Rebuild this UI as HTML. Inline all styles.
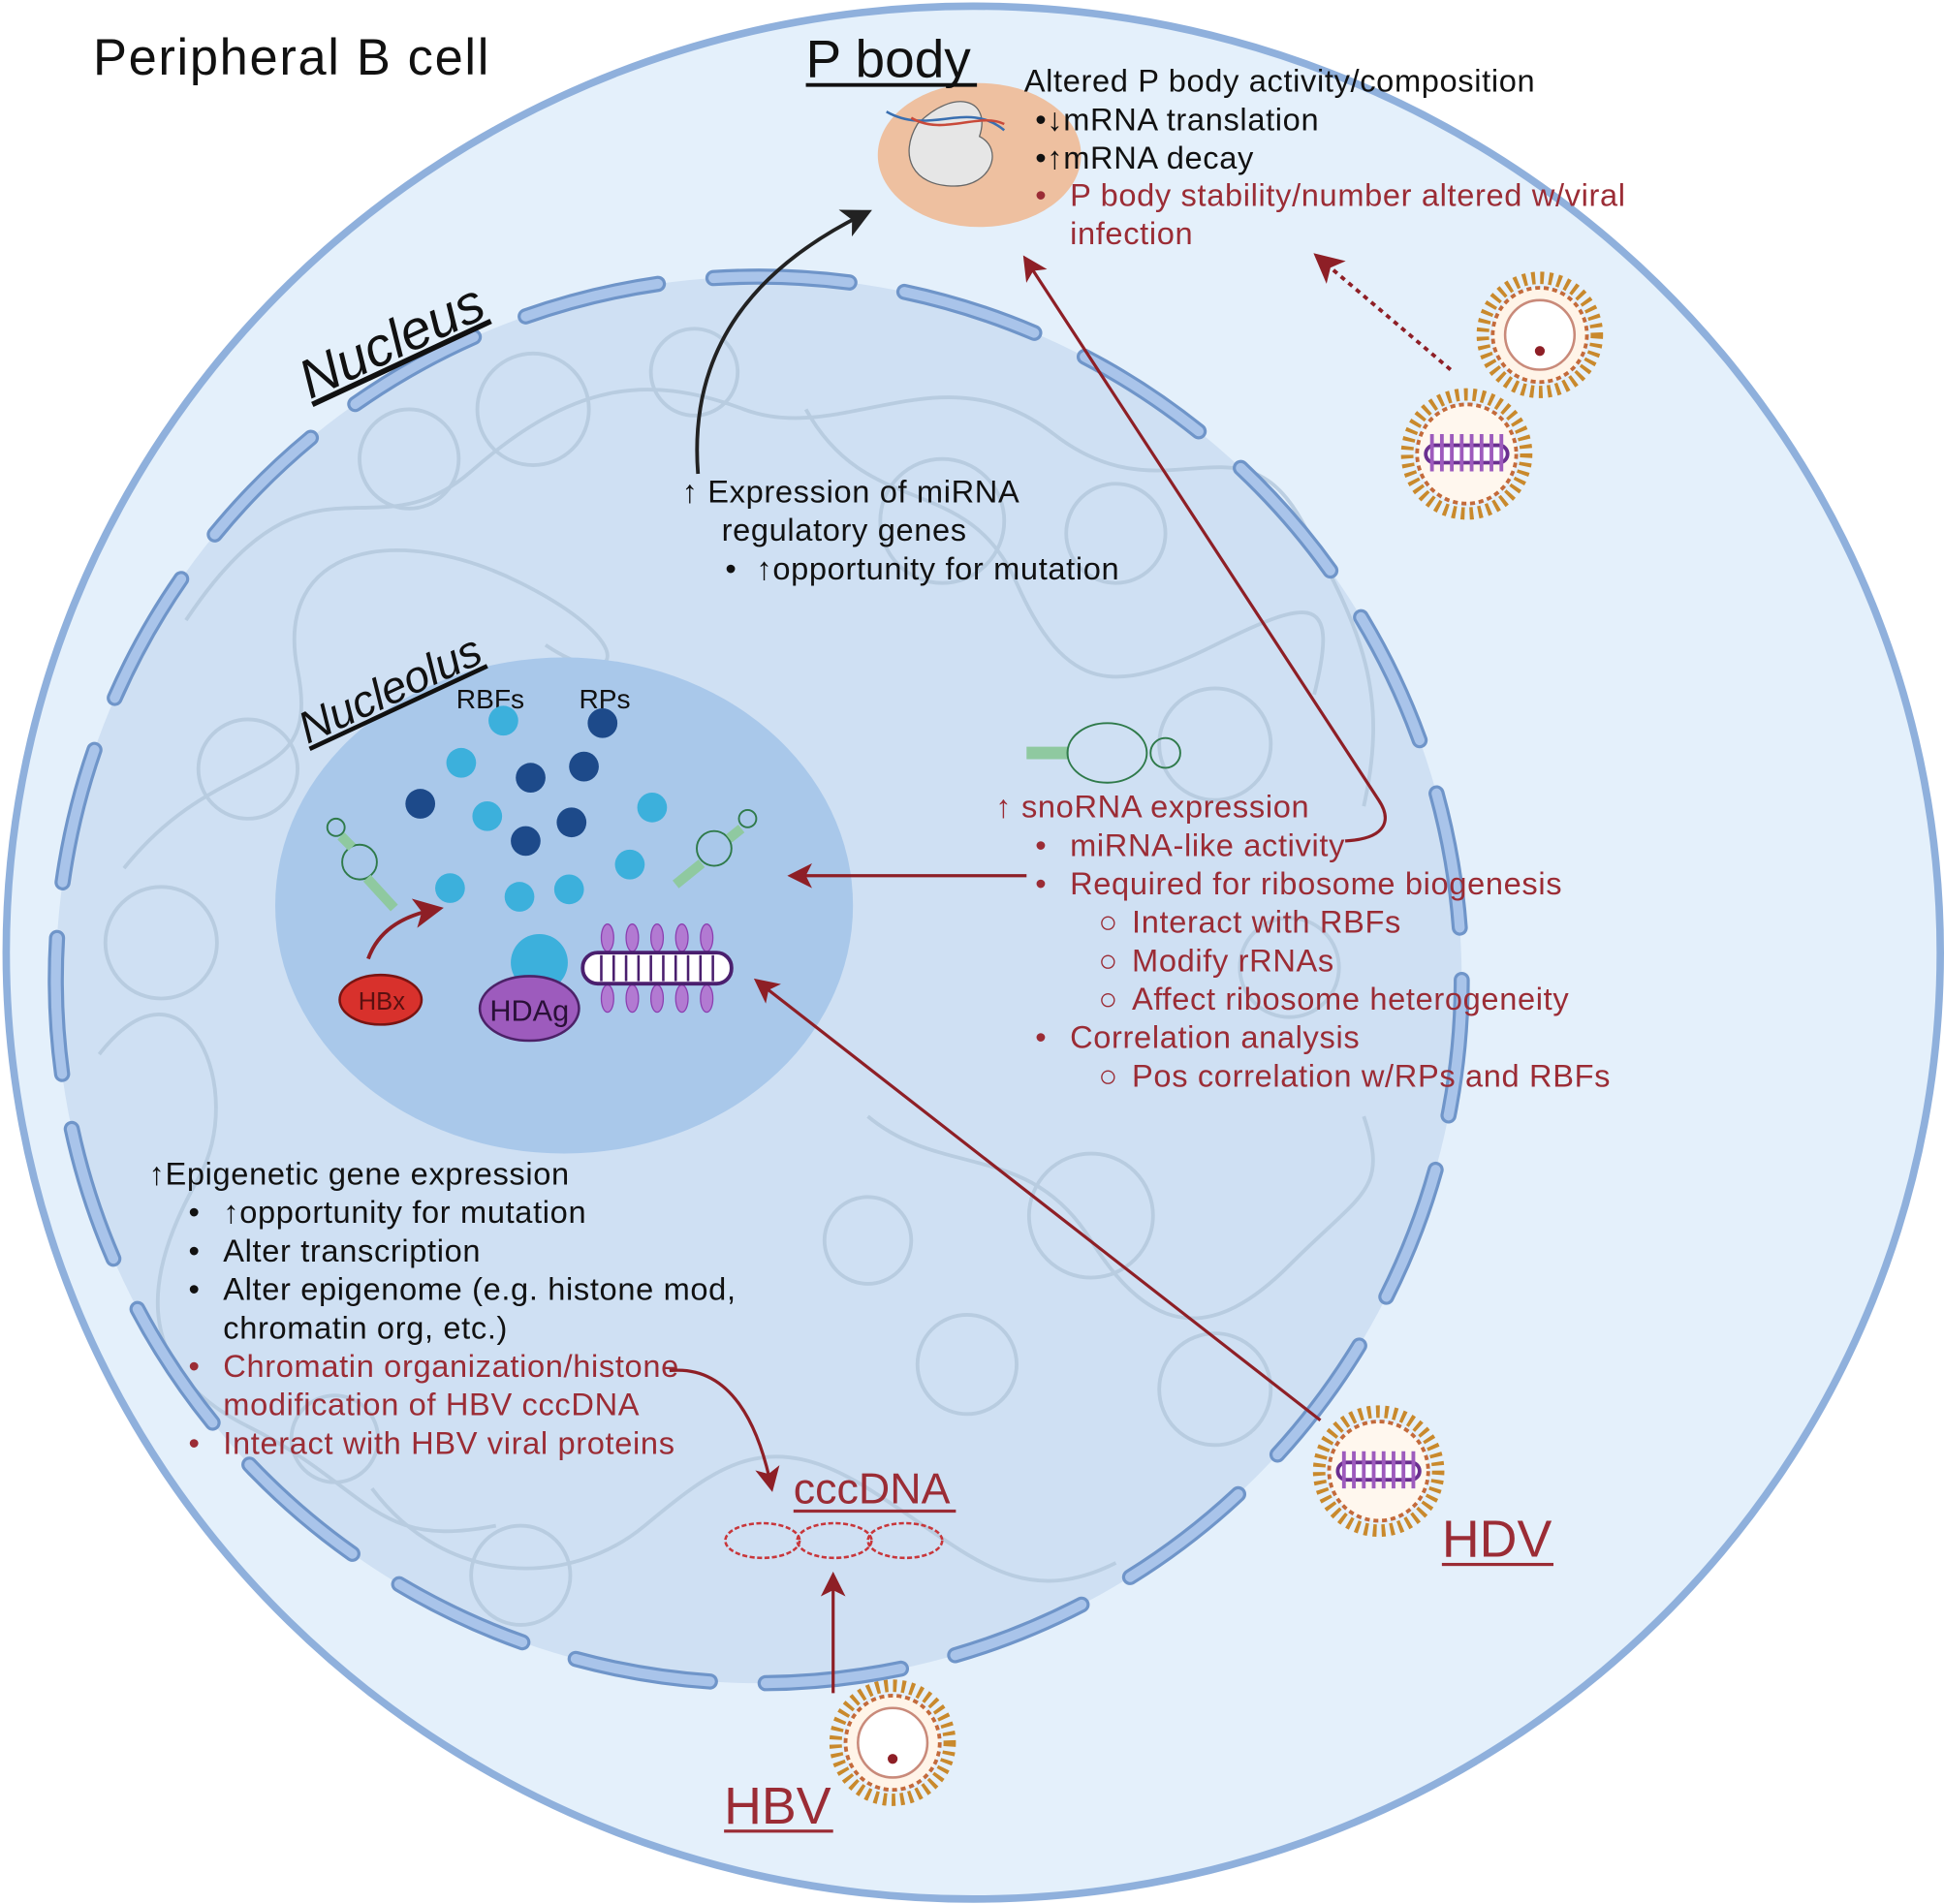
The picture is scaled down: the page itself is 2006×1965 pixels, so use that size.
<!DOCTYPE html>
<html><head><meta charset="utf-8"><style>
html,body{margin:0;padding:0;background:#fff}
svg{display:block}
text{font-family:"Liberation Sans",sans-serif}
.t{font-size:25.5px;letter-spacing:0.5px}
</style></head><body>
<svg width="2006" height="1965" viewBox="0 0 1568 1535" preserveAspectRatio="none" xmlns="http://www.w3.org/2000/svg">
<defs>
<marker id="ab" markerWidth="8" markerHeight="8" refX="6" refY="4" orient="auto" markerUnits="strokeWidth"><path d="M0,0 L8,4 L0,8 L2,4z" fill="#222"/></marker>
<marker id="ar" markerWidth="8" markerHeight="8" refX="6" refY="4" orient="auto" markerUnits="strokeWidth"><path d="M0,0 L8,4 L0,8 L2,4z" fill="#8e1f26"/></marker>
</defs>
<rect width="1568" height="1535" fill="#fff"/>
<ellipse cx="785" cy="768" rx="780" ry="763" fill="#e4f0fb" stroke="#8fb0dc" stroke-width="6"/>
<circle cx="612" cy="790" r="567" fill="#cfe0f3"/>
<g fill="none" stroke="#b3c8dc" stroke-width="3" opacity="0.8">
<path d="M150,500 C250,350 300,450 380,380 S520,300 600,330 S760,280 850,350 S1000,330 1050,420 S1120,560 1100,650"/>
<path d="M100,700 C180,600 260,640 240,540 S320,420 420,470 S500,560 440,520"/>
<path d="M80,850 C150,760 200,880 160,950 S100,1100 200,1150 S300,1250 400,1230"/>
<path d="M650,330 C700,420 780,380 820,470 S900,560 980,520 S1080,480 1060,560"/>
<path d="M700,900 C760,950 830,920 880,1000 S980,1080 1040,1020 S1120,960 1100,900"/>
<path d="M300,1200 C360,1280 460,1280 520,1230 S620,1150 700,1200 S820,1300 900,1260"/>
<circle cx="330" cy="370" r="40"/><circle cx="430" cy="330" r="45"/><circle cx="760" cy="420" r="50"/>
<circle cx="900" cy="430" r="40"/><circle cx="980" cy="600" r="45"/><circle cx="200" cy="620" r="40"/>
<circle cx="130" cy="760" r="45"/><circle cx="880" cy="980" r="50"/><circle cx="780" cy="1100" r="40"/>
<circle cx="980" cy="1120" r="45"/><circle cx="420" cy="1270" r="40"/><circle cx="270" cy="1160" r="35"/>
<circle cx="560" cy="300" r="35"/><circle cx="1040" cy="780" r="40"/><circle cx="700" cy="1000" r="35"/>
</g>
<circle cx="612" cy="790" r="567" fill="none" stroke="#6f95c9" stroke-width="13" stroke-dasharray="110 45" stroke-linecap="round"/>
<circle cx="612" cy="790" r="567" fill="none" stroke="#a9c4ea" stroke-width="8" stroke-dasharray="110 45" stroke-linecap="round"/>
<ellipse cx="455" cy="730" rx="233" ry="200" fill="#a9c8ea"/>
<ellipse cx="790" cy="125" rx="82" ry="58" fill="#eec0a0"/>
<path d="M740,100 C770,70 800,80 790,110 C810,120 800,150 770,150 C735,150 725,125 740,100z" fill="#e6e6e6" stroke="#666"/>
<path d="M715,90 C750,110 780,80 810,105" stroke="#3a6fb0" stroke-width="2" fill="none"/>
<path d="M735,95 C760,110 790,90 810,100" stroke="#c94a3a" stroke-width="2" fill="none"/>
<text x="75" y="60" font-size="41" letter-spacing="1.3" fill="#111">Peripheral B cell</text>
<text x="650" y="62" font-size="43" fill="#111">P body</text>
<rect x="650" y="67" width="138" height="3" fill="#111"/>
<g class="t" fill="#111">
<text x="826" y="74">Altered P body activity/composition</text>
<text x="835" y="105">•↓mRNA translation</text>
<text x="835" y="136">•↑mRNA decay</text>
</g>
<g class="t" fill="#9b2c35">
<text x="835" y="166">•</text>
<text x="863" y="166">P body stability/number altered w/viral</text>
<text x="863" y="197">infection</text>
</g>
<text transform="translate(250,322) rotate(-25)" font-size="44" font-style="italic" fill="#111" text-decoration="underline">Nucleus</text>
<text transform="translate(248,600) rotate(-25)" font-size="36" font-style="italic" fill="#111" text-decoration="underline">Nucleolus</text>
<g class="t" fill="#111">
<text x="550" y="405">↑ Expression of miRNA</text>
<text x="582" y="436">regulatory genes</text>
<text x="585" y="467">•</text>
<text x="610" y="467">↑opportunity for mutation</text>
</g>
<text x="368" y="571" font-size="22" fill="#111">RBFs</text>
<text x="467" y="571" font-size="22" fill="#111">RPs</text>
<g fill="#3cb0dc">
<circle cx="406" cy="581" r="12"/><circle cx="372" cy="615" r="12"/><circle cx="393" cy="658" r="12"/>
<circle cx="526" cy="651" r="12"/><circle cx="508" cy="697" r="12"/><circle cx="363" cy="716" r="12"/>
<circle cx="419" cy="723" r="12"/><circle cx="459" cy="717" r="12"/>
<circle cx="435" cy="776" r="23"/>
</g>
<g fill="#1d4a8a">
<circle cx="486" cy="583" r="12"/><circle cx="428" cy="627" r="12"/><circle cx="471" cy="618" r="12"/>
<circle cx="339" cy="648" r="12"/><circle cx="461" cy="663" r="12"/><circle cx="424" cy="678" r="12"/>
</g>
<g fill="none" stroke="#2f7a4a" stroke-width="1.5">
<circle cx="271" cy="667" r="7"/><circle cx="290" cy="695" r="14"/>
<path d="M275,674 L284,683 M296,708 L318,732" stroke="#8fc9a0" stroke-width="8"/>
<circle cx="603" cy="660" r="7"/><circle cx="576" cy="684" r="14"/>
<path d="M598,668 L588,676 M566,696 L545,713" stroke="#8fc9a0" stroke-width="8"/>
<path d="M828,607 L862,607" stroke="#8fc9a0" stroke-width="10"/>
<ellipse cx="893" cy="607" rx="32" ry="24"/><circle cx="940" cy="607" r="12"/>
</g>
<ellipse cx="307" cy="806" rx="33" ry="20" fill="#d8312c" stroke="#7a1412" stroke-width="2"/>
<text x="289" y="814" font-size="20" fill="#5a1010">HBx</text>
<ellipse cx="427" cy="813" rx="40" ry="26" fill="#9d5bbd" stroke="#4c2268" stroke-width="2"/>
<text x="395" y="823" font-size="24" fill="#2a1038">HDAg</text>
<g stroke="#8b3fb0" fill="#b27ad2">
<ellipse cx="490" cy="756" rx="5" ry="11"/><ellipse cx="510" cy="756" rx="5" ry="11"/><ellipse cx="530" cy="756" rx="5" ry="11"/><ellipse cx="550" cy="756" rx="5" ry="11"/><ellipse cx="570" cy="756" rx="5" ry="11"/>
<ellipse cx="490" cy="805" rx="5" ry="11"/><ellipse cx="510" cy="805" rx="5" ry="11"/><ellipse cx="530" cy="805" rx="5" ry="11"/><ellipse cx="550" cy="805" rx="5" ry="11"/><ellipse cx="570" cy="805" rx="5" ry="11"/>
</g>
<rect x="470" y="768" width="120" height="25" rx="12" fill="#fff" stroke="#4a1f6e" stroke-width="3"/>
<path d="M485,770 V791 M495,770 V791 M505,770 V791 M515,770 V791 M525,770 V791 M535,770 V791 M545,770 V791 M555,770 V791 M565,770 V791 M575,770 V791" stroke="#4a1f6e" stroke-width="2"/>
<g class="t" fill="#9b2c35">
<text x="803" y="659">↑ snoRNA expression</text>
<text x="835" y="690">•</text><text x="863" y="690">miRNA-like activity</text>
<text x="835" y="721">•</text><text x="863" y="721">Required for ribosome biogenesis</text>
<text x="886" y="752">○</text><text x="913" y="752">Interact with RBFs</text>
<text x="886" y="783">○</text><text x="913" y="783">Modify rRNAs</text>
<text x="886" y="814">○</text><text x="913" y="814">Affect ribosome heterogeneity</text>
<text x="835" y="845">•</text><text x="863" y="845">Correlation analysis</text>
<text x="886" y="876">○</text><text x="913" y="876">Pos correlation w/RPs and RBFs</text>
</g>
<g class="t" fill="#111">
<text x="120" y="955">↑Epigenetic gene expression</text>
<text x="152" y="986">•</text><text x="180" y="986">↑opportunity for mutation</text>
<text x="152" y="1017">•</text><text x="180" y="1017">Alter transcription</text>
<text x="152" y="1048">•</text><text x="180" y="1048">Alter epigenome (e.g. histone mod,</text>
<text x="180" y="1079">chromatin org, etc.)</text>
</g>
<g class="t" fill="#9b2c35">
<text x="152" y="1110">•</text><text x="180" y="1110">Chromatin organization/histone</text>
<text x="180" y="1141">modification of HBV cccDNA</text>
<text x="152" y="1172">•</text><text x="180" y="1172">Interact with HBV viral proteins</text>
</g>
<text x="640" y="1212" font-size="35" fill="#9b2c35">cccDNA</text>
<rect x="640" y="1217" width="131" height="2.5" fill="#9b2c35"/>
<g fill="none" stroke="#c8363a" stroke-width="2" stroke-dasharray="4 2">
<ellipse cx="615" cy="1242" rx="30" ry="14"/><ellipse cx="673" cy="1242" rx="30" ry="14"/><ellipse cx="730" cy="1242" rx="30" ry="14"/>
</g>
<text x="1163" y="1255" font-size="42" fill="#9b2c35">HDV</text>
<rect x="1163" y="1260" width="90" height="2.5" fill="#9b2c35"/>
<text x="584" y="1470" font-size="42" fill="#9b2c35">HBV</text>
<rect x="584" y="1475" width="88" height="2.5" fill="#9b2c35"/>
<g>
<circle cx="720" cy="1405" r="46" fill="none" stroke="#c9892c" stroke-width="10" stroke-dasharray="3 4"/>
<circle cx="720" cy="1405" r="38" fill="#fff4e8" stroke="#c46a3a" stroke-width="3" stroke-dasharray="4 3"/>
<circle cx="720" cy="1405" r="28" fill="#fff" stroke="#c98a7a" stroke-width="2"/>
<circle cx="720" cy="1418" r="4" fill="#8e1f26"/>
</g>
<g>
<circle cx="1242" cy="270" r="46" fill="none" stroke="#c9892c" stroke-width="10" stroke-dasharray="3 4"/>
<circle cx="1242" cy="270" r="38" fill="#fff4e8" stroke="#c46a3a" stroke-width="3" stroke-dasharray="4 3"/>
<circle cx="1242" cy="270" r="28" fill="#fff" stroke="#c98a7a" stroke-width="2"/>
<circle cx="1242" cy="283" r="4" fill="#8e1f26"/>
</g>
<g>
<circle cx="1183" cy="366" r="48" fill="none" stroke="#c9892c" stroke-width="10" stroke-dasharray="3 4"/>
<circle cx="1183" cy="366" r="40" fill="#fff7ee" stroke="#c46a3a" stroke-width="3" stroke-dasharray="4 3"/>
<rect x="1150" y="359" width="66" height="14" rx="7" fill="#fff" stroke="#6a2f90" stroke-width="3"/>
<path d="M1155,350 v30 M1163,350 v30 M1171,350 v30 M1179,350 v30 M1187,350 v30 M1195,350 v30 M1203,350 v30 M1211,350 v30" stroke="#9d5bbd" stroke-width="3"/>
</g>
<g>
<circle cx="1112" cy="1186" r="48" fill="none" stroke="#c9892c" stroke-width="10" stroke-dasharray="3 4"/>
<circle cx="1112" cy="1186" r="40" fill="#fff7ee" stroke="#c46a3a" stroke-width="3" stroke-dasharray="4 3"/>
<rect x="1079" y="1179" width="66" height="14" rx="7" fill="#fff" stroke="#6a2f90" stroke-width="3"/>
<path d="M1084,1170 v30 M1092,1170 v30 M1100,1170 v30 M1108,1170 v30 M1116,1170 v30 M1124,1170 v30 M1132,1170 v30 M1140,1170 v30" stroke="#9d5bbd" stroke-width="3"/>
</g>
<path d="M563,382 C555,280 610,215 698,172" fill="none" stroke="#222" stroke-width="3" marker-end="url(#ab)"/>
<path d="M1085,678 C1120,676 1122,660 1112,645 L828,210" fill="none" stroke="#8e1f26" stroke-width="2.5" marker-end="url(#ar)"/>
<path d="M828,706 L640,706" fill="none" stroke="#8e1f26" stroke-width="2.5" marker-end="url(#ar)"/>
<path d="M1065,1145 L612,792" fill="none" stroke="#8e1f26" stroke-width="2.5" marker-end="url(#ar)"/>
<path d="M1170,298 L1064,208" fill="none" stroke="#8e1f26" stroke-width="3" stroke-dasharray="4 4" marker-end="url(#ar)"/>
<path d="M672,1365 L672,1272" fill="none" stroke="#8e1f26" stroke-width="2.5" marker-end="url(#ar)"/>
<path d="M540,1105 C590,1100 612,1150 622,1198" fill="none" stroke="#8e1f26" stroke-width="2.5" marker-end="url(#ar)"/>
<path d="M297,773 C305,750 325,738 352,733" fill="none" stroke="#8e1f26" stroke-width="3" marker-end="url(#ar)"/>
</svg>
</body></html>
